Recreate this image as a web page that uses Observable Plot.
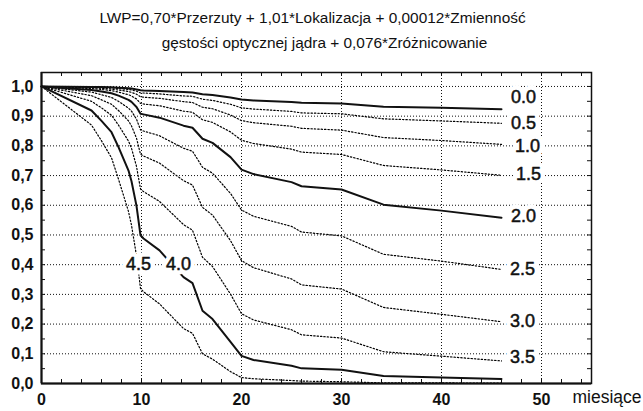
<!DOCTYPE html>
<html><head><meta charset="utf-8">
<script src="https://cdn.jsdelivr.net/npm/d3@7"></script>
<script src="https://cdn.jsdelivr.net/npm/@observablehq/plot@0.6"></script>
<style>
body{margin:0;background:#fff;font-family:"Liberation Sans",Arial,sans-serif;}
#title{height:60px;box-sizing:border-box;padding-top:5px;text-align:center;font-size:15.4px;line-height:25px;color:#111;white-space:nowrap;}
#title .l1{position:relative;left:-9px;}
#title .l2{position:relative;left:3px;}
</style></head><body>
<div id="title"><div class="l1">LWP=0,70*Przerzuty + 1,01*Lokalizacja + 0,00012*Zmienność</div><div class="l2">gęstości optycznej jądra + 0,076*Zróżnicowanie</div></div>
<div id="chart"></div>
<script>
// months (x)
const times = [0, 5, 6, 7, 7.7, 8.7, 9, 9.5, 9.9, 10.2, 11.8, 14.2, 15.1, 16.1, 17.1, 18.9, 20, 21.2, 25, 26, 30, 34.2, 40, 46];
// survival curves for LWP values
const s00 = [1, .998, .998, .997, .996, .994, .993, .990, .987, .986, .985, .981, .980, .974, .971, .963, .956, .953, .948, .945, .943, .932, .928, .923];
const s05 = [1, .997, .996, .995, .993, .990, .988, .984, .978, .978, .975, .968, .967, .957, .953, .940, .928, .924, .916, .911, .908, .891, .884, .876];
const s10 = [1, .996, .994, .991, .988, .983, .980, .974, .965, .964, .960, .949, .946, .930, .925, .904, .885, .878, .866, .859, .853, .828, .818, .805];
const s15 = [1, .993, .990, .986, .981, .972, .968, .958, .943, .941, .935, .917, .913, .888, .879, .847, .819, .808, .789, .779, .771, .734, .719, .701];
const s20 = [1, .988, .983, .977, .969, .955, .948, .931, .908, .906, .895, .868, .861, .824, .810, .762, .720, .705, .678, .664, .653, .602, .582, .558];
const s25 = [1, .981, .972, .963, .950, .927, .917, .890, .854, .850, .834, .792, .782, .728, .708, .640, .584, .563, .529, .510, .497, .435, .412, .384];
const s30 = [1, .969, .955, .940, .919, .884, .867, .826, .772, .766, .742, .683, .668, .593, .567, .481, .414, .390, .352, .332, .318, .256, .233, .208];
const s35 = [1, .950, .928, .903, .870, .816, .792, .731, .655, .646, .613, .535, .516, .425, .394, .301, .235, .214, .181, .164, .153, .107, .092, .076];
const s40 = [1, .919, .884, .846, .796, .717, .681, .598, .499, .488, .448, .358, .338, .245, .217, .140, .093, .079, .060, .051, .046, .025, .020, .015];
const s45 = [1, .870, .817, .760, .688, .579, .533, .430, .320, .309, .268, .185, .169, .100, .082, .040, .020, .016, .010, .008, .006, .002, .002, .001];

const seriesKeys = ["0.0", "0.5", "1.0", "1.5", "2.0", "2.5", "3.0", "3.5", "4.0", "4.5"];
const seriesValues = [s00, s05, s10, s15, s20, s25, s30, s35, s40, s45];
const solidKeys = ["0.0", "2.0", "4.0"];

// curve label anchors (month, survival)
const labelMonth = [48.2, 48.2, 48.6, 48.7, 48.2, 48.1, 48.1, 48.1, 13.7, 9.7];
const labelValue = [0.963, 0.876, 0.799, 0.703, 0.562, 0.386, 0.209, 0.087, 0.40, 0.40];

// ticks
const xTicks = [0, 10, 20, 30, 40, 50];
const xGrid = [10, 20, 30, 40, 50];
const yTicks = [0, 0.1, 0.2, 0.3, 0.4, 0.5, 0.6, 0.7, 0.8, 0.9, 1.0];
const yGrid = [0.1, 0.2, 0.3, 0.4, 0.5, 0.6, 0.7, 0.8, 0.9, 1.0];
const xMinor = d3.range(0, 56, 2);
const yMinor = d3.range(0, 21).map(i => i * 0.05);
const xTitle = "miesiące";

const data = [];
seriesKeys.forEach((k, i) => times.forEach((t, j) => data.push({key: k, t, s: seriesValues[i][j]})));
const labels = seriesKeys.map((k, i) => ({key: k, x: labelMonth[i], y: labelValue[i]}));

const width = 643, height = 351, mL = 41, mR = 52, mT = 12, mB = 28;
const fw = width - mL - mR, fh = height - mT - mB;

const chart = Plot.plot({
  width, height,
  marginLeft: mL, marginRight: mR, marginTop: mT, marginBottom: mB,
  x: {domain: [0, 55]},
  y: {domain: [0, 1.047]},
  style: {fontFamily: "'Liberation Sans', Arial, sans-serif", fontSize: "16px", color: "#111", background: "white", overflow: "visible"},
  marks: [
    Plot.gridX(xGrid, {stroke: "#111", strokeOpacity: 1, strokeWidth: 1, strokeDasharray: "1,2"}),
    Plot.gridY(yGrid, {stroke: "#111", strokeOpacity: 1, strokeWidth: 1, strokeDasharray: "1,2"}),
    Plot.line(data.filter(d => !solidKeys.includes(d.key)), {x: "t", y: "s", z: "key", stroke: "#000", strokeWidth: 1.2, strokeDasharray: "1.4,2"}),
    Plot.line(data.filter(d => solidKeys.includes(d.key)), {x: "t", y: "s", z: "key", stroke: "#111", strokeWidth: 2}),
    Plot.text(labels, {x: "x", y: "y", text: "key", fontSize: 18, fill: "white", stroke: "white", strokeWidth: 9, strokeLinejoin: "round"}),
    Plot.text(labels, {x: "x", y: "y", text: "key", fontSize: 18, fill: "#111", stroke: "#111", strokeWidth: 0.5}),
    Plot.tickX(xMinor, {x: d => d, insetTop: fh - 4, stroke: "#111"}),
    Plot.tickX(xMinor, {x: d => d, insetBottom: fh - 4, stroke: "#111"}),
    Plot.tickY(yMinor, {y: d => d, insetRight: fw - 4, stroke: "#111"}),
    Plot.tickY(yMinor, {y: d => d, insetLeft: fw - 4, stroke: "#111"}),
    Plot.frame({stroke: "#111", strokeWidth: 1.5}),
    Plot.ruleX([0], {stroke: "#111", strokeWidth: 2}),
    Plot.ruleY([0], {stroke: "#111", strokeWidth: 2}),
    Plot.axisX(xTicks, {tickSize: 0, tickPadding: 10, fontWeight: "bold", fontSize: 16, label: null, tickFormat: d => String(d)}),
    Plot.axisY(yTicks, {tickSize: 0, tickPadding: 8, fontWeight: "bold", fontSize: 16, label: null, tickFormat: d => d.toFixed(1).replace(".", ",")}),
    Plot.text([xTitle], {frameAnchor: "bottom-right", text: d => d, textAnchor: "start", dx: -19, dy: 19, fontSize: 17.5, fill: "#111"})
  ]
});
document.getElementById("chart").appendChild(chart);
</script>
</body></html>
